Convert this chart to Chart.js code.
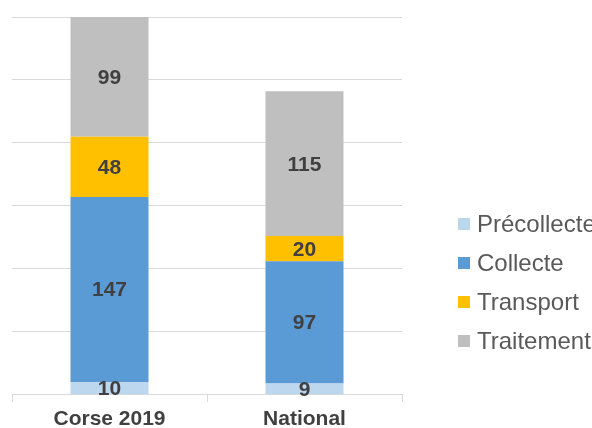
<!DOCTYPE html>
<html>
<head>
<meta charset="utf-8">
<script src="https://cdn.jsdelivr.net/npm/chart.js@4"></script>
<style>
  html, body { margin: 0; padding: 0; background: #fff; overflow: hidden; }
  #wrap { position: relative; width: 592px; height: 428px; overflow: hidden; }
  #legend { position: absolute; left: 458px; top: 212px; font-family: "Liberation Sans", Arial, sans-serif;
            font-size: 24px; line-height: 23px; color: #595959; white-space: nowrap; }
  .item { height: 39px; display: flex; align-items: flex-start; }
  .box { width: 12px; height: 12px; margin-top: 6px; margin-right: 7px; flex: none; }
</style>
</head>
<body>
<div id="wrap">
  <canvas id="myChart" width="592" height="428"></canvas>
  <div id="legend"></div>
</div>
<script>
const categories = ['Corse 2019', 'National'];
const seriesNames = ['Précollecte', 'Collecte', 'Transport', 'Traitement'];
const seriesColors = ['#BDD7EE', '#5B9BD5', '#FFC000', '#BFBFBF'];
const precollecte = [10, 9];
const collecte = [147, 97];
const transport = [48, 20];
const traitement = [99, 115];
const seriesValues = [precollecte, collecte, transport, traitement];

const ctx = document.getElementById('myChart');

// draws the value in the middle of each visible segment
const segmentLabels = {
    id: 'segmentLabels',
    afterDatasetsDraw(chart) {
        const c = chart.ctx;
        const area = chart.chartArea;
        c.save();
        c.font = 'bold 21px "Liberation Sans", Arial, sans-serif';
        c.fillStyle = '#404040';
        c.textAlign = 'center';
        c.textBaseline = 'middle';
        chart.data.datasets.forEach(function (ds, i) {
            chart.getDatasetMeta(i).data.forEach(function (bar, j) {
                const top = Math.max(bar.y, area.top);
                const bottom = Math.min(bar.base, area.bottom);
                c.fillText(String(ds.data[j]), bar.x, (top + bottom) / 2 + 1);
            });
        });
        c.restore();
    }
};

const graph = new Chart(ctx, {
    type: 'bar',
    data: {
        labels: categories,
        datasets: seriesNames.map(function (name, i) {
            return {
                label: name,
                data: seriesValues[i],
                backgroundColor: seriesColors[i],
                barPercentage: 0.8,
                categoryPercentage: 0.5
            };
        })
    },
    options: {
        responsive: false,
        animation: false,
        layout: { padding: { left: 12, right: 190, top: 17, bottom: -9 } },
        plugins: { legend: { display: false }, tooltip: { enabled: false } },
        scales: {
            x: {
                stacked: true,
                grid: { drawOnChartArea: false, drawTicks: true, tickLength: 7, color: '#d9d9d9' },
                border: { color: '#d9d9d9' },
                ticks: {
                    color: '#404040',
                    padding: 5,
                    font: { family: '"Liberation Sans", Arial, sans-serif', size: 21, weight: 'bold' }
                }
            },
            y: {
                stacked: true,
                min: 0,
                max: 300,
                ticks: { display: false, stepSize: 50 },
                grid: { color: '#d9d9d9', drawTicks: false },
                border: { display: false }
            }
        }
    },
    plugins: [segmentLabels]
});

const legend = document.getElementById('legend');
seriesNames.forEach(function (name, i) {
    const row = document.createElement('div');
    row.className = 'item';
    row.innerHTML = '<span class="box" style="background:' + seriesColors[i] + '"></span>' + name;
    legend.appendChild(row);
});
</script>
</body>
</html>
